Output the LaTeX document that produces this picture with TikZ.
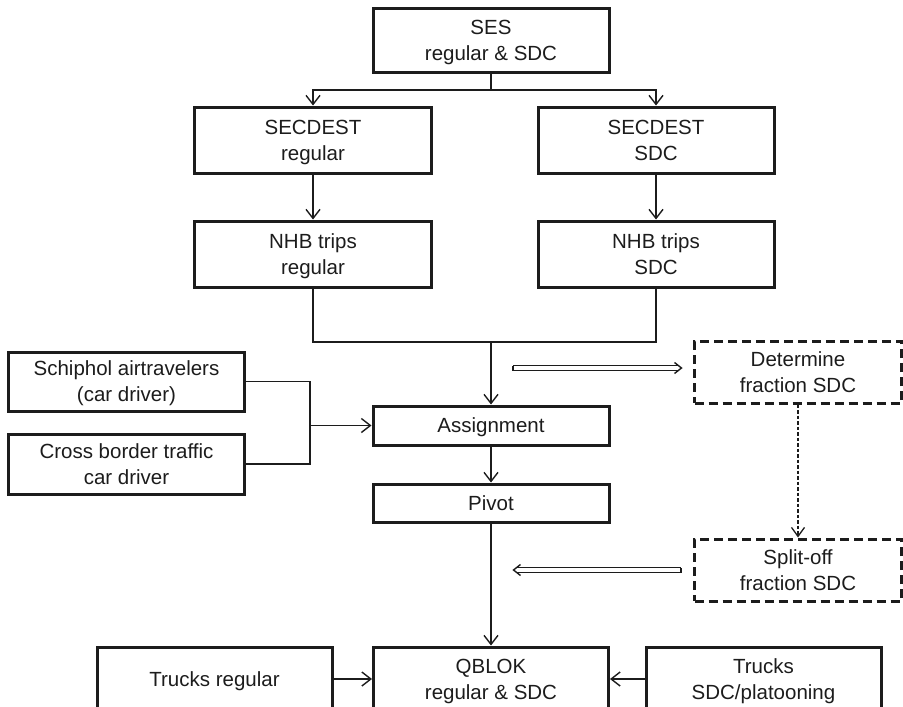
\documentclass[tikz,border=0pt]{standalone}
\usepackage{fontspec}
\setmainfont{Liberation Sans}
\usetikzlibrary{arrows.meta}
\definecolor{ink}{RGB}{28,28,28}
\newcommand\twoln[2]{\begin{tabular}{@{}c@{}}\rule{0pt}{22.5pt}#1\\#2\end{tabular}}
\begin{document}
\begin{tikzpicture}[x=1pt,y=-1pt,
  box/.style={draw=ink, line width=3pt, text=ink, inner sep=0pt,
    font=\fontsize{20.5}{26}\selectfont},
  one/.style={text height=14.7pt, text depth=0pt},
  dbox/.style={box, dash pattern=on 9pt off 5pt},
  conn/.style={draw=ink, line width=1.4pt},
  arr/.style={conn, -{Straight Barb[length=9pt,width=14pt,line width=1.4pt]}},
  dotarr/.style={draw=ink, line width=1.3pt, dash pattern=on 3.5pt off 2pt,
    -{Straight Barb[length=9pt,width=13pt,line width=1.3pt]}},
  dblshaft/.style={draw=ink, line width=1.4pt, double=white, double distance=3.6pt},
  dblline/.style={draw=ink, line width=1.4pt, line join=miter}
]
\useasboundingbox (0,0) rectangle (903,707);
\node[box, minimum width=236pt, minimum height=64pt] (ses) at (491,40) {\twoln{SES}{regular \& SDC}};
\node[box, minimum width=237pt, minimum height=66pt] (secr) at (313,140) {\twoln{SECDEST}{regular}};
\node[box, minimum width=236pt, minimum height=66pt] (secs) at (656,140) {\twoln{SECDEST}{SDC}};
\node[box, minimum width=237pt, minimum height=66pt] (nhbr) at (313,254) {\twoln{NHB trips}{regular}};
\node[box, minimum width=236pt, minimum height=66pt] (nhbs) at (656,254) {\twoln{NHB trips}{SDC}};
\node[box, minimum width=236pt, minimum height=59pt] (schip) at (126.5,381.5) {\twoln{Schiphol airtravelers}{(car driver)}};
\node[box, minimum width=236pt, minimum height=60pt] (cross) at (126.5,464) {\twoln{Cross border traffic}{car driver}};
\node[box, one, minimum width=236pt, minimum height=39pt] (assign) at (491,425.5) {Assignment};
\node[box, one, minimum width=236pt, minimum height=38pt] (pivot) at (491,503) {Pivot};
\node[dbox, minimum width=207pt, minimum height=62pt] (det) at (798,372) {\twoln{Determine}{fraction SDC}};
\node[dbox, minimum width=207pt, minimum height=62pt] (split) at (798,570) {\twoln{Split-off}{fraction SDC}};
\node[box, minimum width=235pt, minimum height=64pt] (qblok) at (491,679) {\twoln{QBLOK}{regular \& SDC}};
\node[box, one, minimum width=235pt, minimum height=64pt] (trr) at (214.5,679) {Trucks regular};
\node[box, minimum width=235pt, minimum height=64pt] (trs) at (763.5,679) {\twoln{Trucks}{SDC/platooning}};
% connectors
\coordinate (sj) at (491,90);
\draw[conn] (ses.south) -- (sj);
\draw[arr] (sj) -| (secr.north);
\draw[arr] (sj) -| (secs.north);
\draw[arr] (secr) -- (nhbr);
\draw[arr] (secs) -- (nhbs);
\coordinate (nj) at (491,342);
\draw[conn] (nhbr.south) |- (nj) -| (nhbs.south);
\draw[arr] (nj) -- (assign.north);
\coordinate (cj) at (310,425.5);
\draw[conn] (schip.east) -| (cj) |- (cross.east);
\draw[arr] (cj) -- (assign.west);
\draw[arr] (assign) -- (pivot);
\draw[arr] (pivot) -- (qblok);
\draw[arr] (trr) -- (qblok);
\draw[arr] (trs) -- (qblok);
\draw[dotarr] (det) -- (split);
% hollow (double) arrows towards / from the dashed boxes
\coordinate (da) at (513,368);
\coordinate (dat) at (681.5,368);
\draw[dblshaft] (da) -- ([xshift=-3.2pt]dat);
\draw[dblline] ([yshift=-2.5pt]da) -- ([yshift=2.5pt]da);
\draw[dblline] ([xshift=-7pt,yshift=5.5pt]dat) -- (dat) -- ([xshift=-7pt,yshift=-5.5pt]dat);
\coordinate (dbt) at (681,570);
\coordinate (db) at (513.5,570);
\draw[dblshaft] (dbt) -- ([xshift=3.2pt]db);
\draw[dblline] ([yshift=-2.5pt]dbt) -- ([yshift=2.5pt]dbt);
\draw[dblline] ([xshift=7pt,yshift=5.5pt]db) -- (db) -- ([xshift=7pt,yshift=-5.5pt]db);
\end{tikzpicture}
\end{document}
